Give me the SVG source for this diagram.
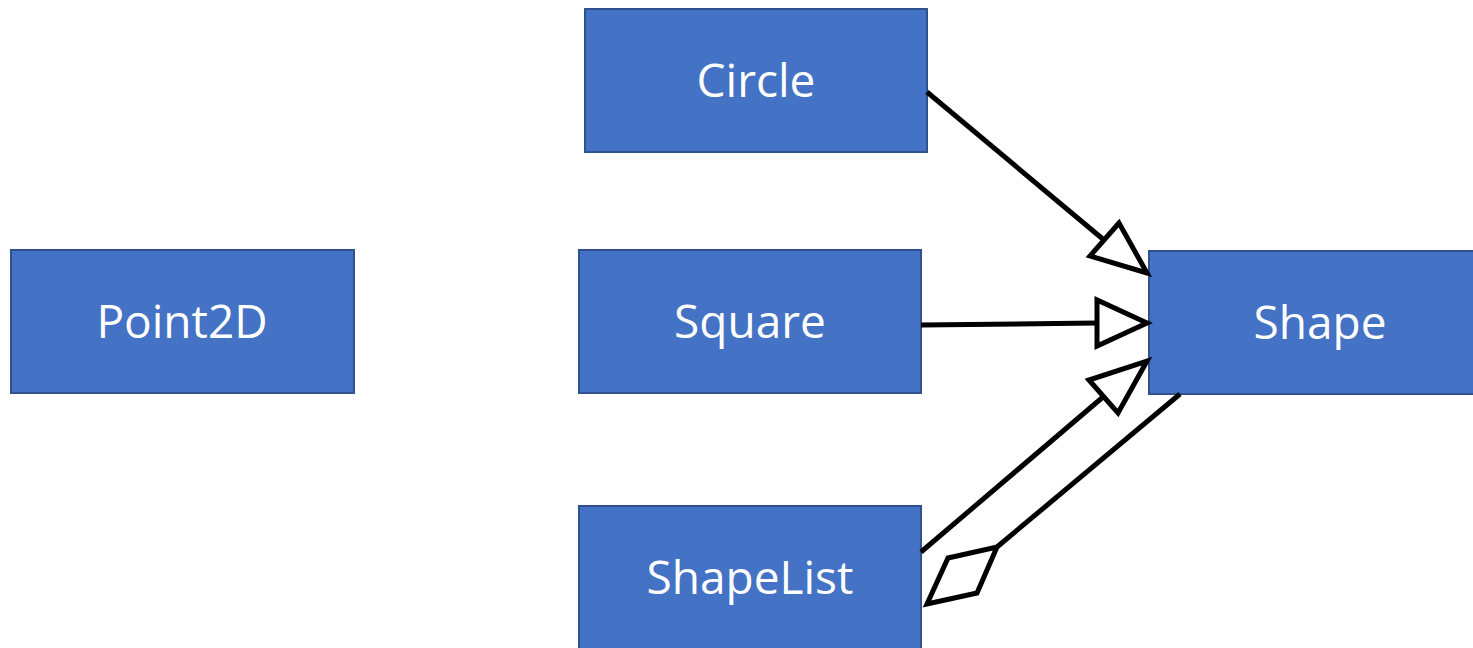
<svg xmlns="http://www.w3.org/2000/svg" width="1473" height="648" viewBox="0 0 1473 648">
<style>
.box{fill:#4472C4;stroke:#2F528F;stroke-width:2}
.lbl{font-family:"Open Sans","Liberation Sans",sans-serif;font-size:46px;fill:#FFFFFF;text-anchor:middle}
.ln{fill:none;stroke:#000;stroke-width:5;stroke-linejoin:miter}
.head{fill:#FFFFFF;stroke:#000;stroke-width:5;stroke-linejoin:miter}
</style>
<rect width="1473" height="648" fill="#FFFFFF"/>
<g id="node-circle"><rect class="box" x="585" y="9" width="342" height="143"/><text class="lbl" x="756" y="97">Circle</text></g>
<g id="node-point2d"><rect class="box" x="11" y="250" width="343" height="143"/><text class="lbl" x="182" y="338">Point2D</text></g>
<g id="node-square"><rect class="box" x="579" y="250" width="342" height="143"/><text class="lbl" x="750" y="338">Square</text></g>
<g id="node-shapelist"><rect class="box" x="579" y="506" width="342" height="150"/><text class="lbl" x="750" y="594">ShapeList</text></g>
<g id="node-shape"><rect class="box" x="1149" y="251" width="330" height="143"/><text class="lbl" x="1320" y="339">Shape</text></g>
<g id="connectors">
<line class="ln" x1="927" y1="92" x2="1104" y2="240"/>
<polygon class="head" points="1119,223 1090,256 1147,273"/>
<line class="ln" x1="921" y1="325" x2="1097" y2="323"/>
<polygon class="head" points="1097,300 1097,346 1147,323"/>
<line class="ln" x1="921" y1="552" x2="1103" y2="397"/>
<polygon class="head" points="1089,380 1118,413 1147,361"/>
<line class="ln" x1="997" y1="547" x2="1180" y2="394"/>
<polygon class="head" points="927,604 948,558 997,547 977,593"/>
</g>
</svg>
